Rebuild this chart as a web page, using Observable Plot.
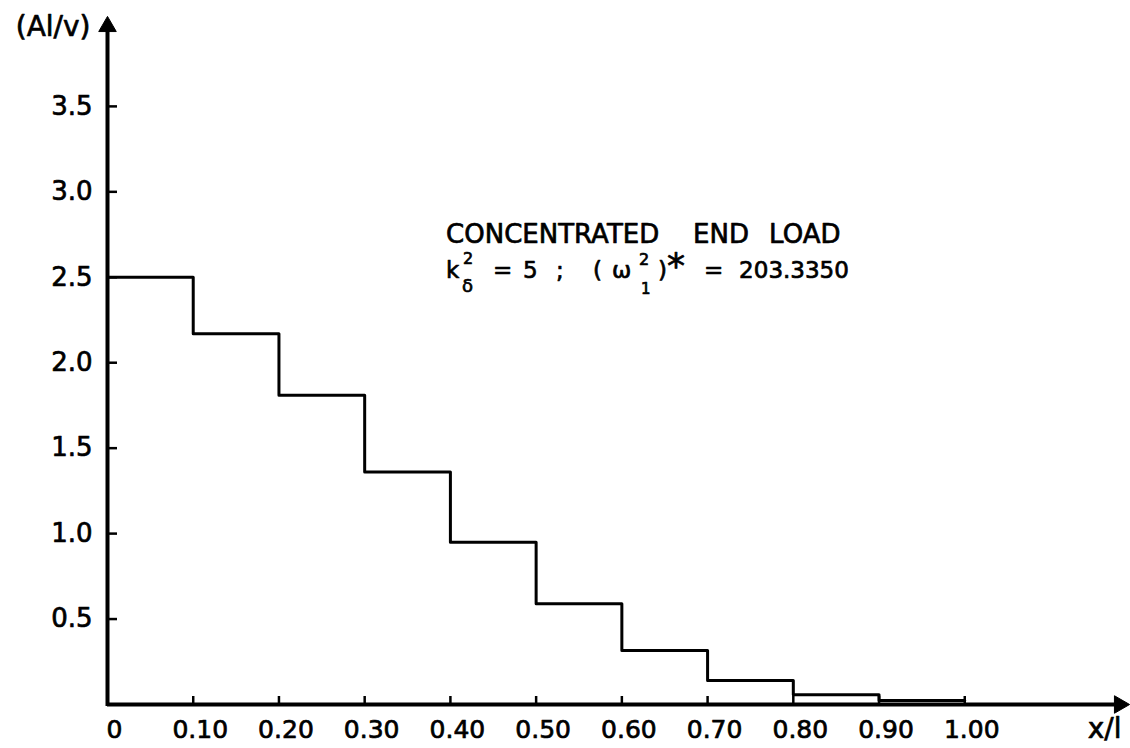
<!DOCTYPE html>
<html>
<head>
<meta charset="utf-8">
<script src="https://cdn.jsdelivr.net/npm/d3@7"></script>
<script src="https://cdn.jsdelivr.net/npm/@observablehq/plot@0.6"></script>
<style>
  html, body { margin: 0; padding: 0; background: #fff; }
  #chart svg { display: block; font-family: "DejaVu Sans", sans-serif; }
</style>
</head>
<body>
<div id="chart"></div>
<script>
// ---- data ----
const stepStarts = [0.0, 0.1, 0.2, 0.3, 0.4, 0.5, 0.6, 0.7, 0.8, 0.9];
const stepValues = [2.50, 2.17, 1.81, 1.36, 0.95, 0.59, 0.316, 0.14, 0.057, 0.023];
const stepEnd = 1.0;

const xTickValues = [0, 0.1, 0.2, 0.3, 0.4, 0.5, 0.6, 0.7, 0.8, 0.9, 1.0];
const xTickLabels = ["0", "0.10", "0.20", "0.30", "0.40", "0.50", "0.60", "0.70", "0.80", "0.90", "1.00"];
const yTickValues = [0.5, 1.0, 1.5, 2.0, 2.5, 3.0, 3.5];
const yTickLabels = ["0.5", "1.0", "1.5", "2.0", "2.5", "3.0", "3.5"];

const xLabel = "x/l";
const yLabel = "(Al/v)";
const titleLine = ["CONCENTRATED", "END", "LOAD"];
const xMax = 1.191;
const yMax = 4.026;
const annX = 0.395;
const annY = 2.70;

// ---- build tables ----
const stepPoints = stepStarts.map((x, i) => ({x, y: stepValues[i]}));
stepPoints.push({x: stepEnd, y: stepValues[stepValues.length - 1]});
const xTicks = xTickValues.map((v, i) => ({v, label: xTickLabels[i]}));
const yTicks = yTickValues.map((v, i) => ({v, label: yTickLabels[i]}));

const ink = {fill: "black", stroke: "black", strokeWidth: 0.7};

// annotation pieces: [text, dx, dy, fontSize]
const ann = [
  [titleLine[0], 0, 0, 26],
  [titleLine[1], 247, 0, 26],
  [titleLine[2], 323, 0, 26],
  ["k", 0, 35, 23],
  ["2", 17, 21, 16],
  ["δ", 16, 49, 18],
  ["=", 47, 35, 23],
  ["5", 77, 35, 23],
  [";", 110, 35, 23],
  ["(", 147, 35, 23],
  ["ω", 166, 35, 23],
  ["2", 193, 22, 16],
  ["1", 195, 51, 15],
  [")", 212, 35, 23],
  ["*", 221, 35, 36],
  ["=", 258, 35, 23],
  ["203.3350", 293, 35, 23]
];

const annMarks = ann.map(([t, dx, dy, fs]) =>
  Plot.text([t], {x: annX, y: annY, text: d => d, dx, dy, fontSize: fs,
    textAnchor: "start", lineAnchor: "bottom", ...ink}));

const chart = Plot.plot({
  width: 1130,
  height: 748,
  marginLeft: 107,
  marginRight: 2,
  marginTop: 16,
  marginBottom: 44,
  x: {domain: [0, xMax], axis: null},
  y: {domain: [0, yMax], axis: null},
  marks: [
    // axes
    Plot.ruleY([0], {x1: 0, x2: xMax, insetRight: 8, stroke: "black", strokeWidth: 4}),
    Plot.ruleX([0], {y1: yMax, y2: 0, insetTop: 8, insetBottom: -2, stroke: "black", strokeWidth: 4}),
    Plot.dot([0], {x: xMax, y: 0, symbol: "triangle", rotate: 90, r: 6.5, dx: -9, fill: "black", stroke: "black", strokeWidth: 1}),
    Plot.dot([0], {x: 0, y: yMax, symbol: "triangle", r: 6.5, dy: 10, fill: "black", stroke: "black", strokeWidth: 1}),
    // ticks
    Plot.ruleX(xTicks.filter(d => d.v > 0), {x: "v", y1: 0, y2: 0, insetTop: -8, stroke: "black", strokeWidth: 2.5}),
    Plot.ruleY(yTicks, {y: "v", x1: 0, x2: 0, insetRight: -10, stroke: "black", strokeWidth: 2.5}),
    // tick labels
    Plot.text(xTicks, {x: "v", y: 0, text: "label", dy: 25, dx: 7, fontSize: 25, ...ink}),
    Plot.text(yTicks, {x: 0, y: "v", text: "label", dx: -15, textAnchor: "end", fontSize: 26, ...ink}),
    // axis labels
    Plot.text([xLabel], {x: xMax, y: 0, text: d => d, dy: 25, dx: -7, textAnchor: "end", fontSize: 28, ...ink}),
    Plot.text([yLabel], {x: 0, y: yMax, text: d => d, dy: 11, dx: -17, textAnchor: "end", fontSize: 28, ...ink}),
    // step curve
    Plot.line(stepPoints, {x: "x", y: "y", curve: "step-after", stroke: "black", strokeWidth: 3}),
    ...annMarks
  ]
});
document.getElementById("chart").appendChild(chart);
</script>
</body>
</html>
